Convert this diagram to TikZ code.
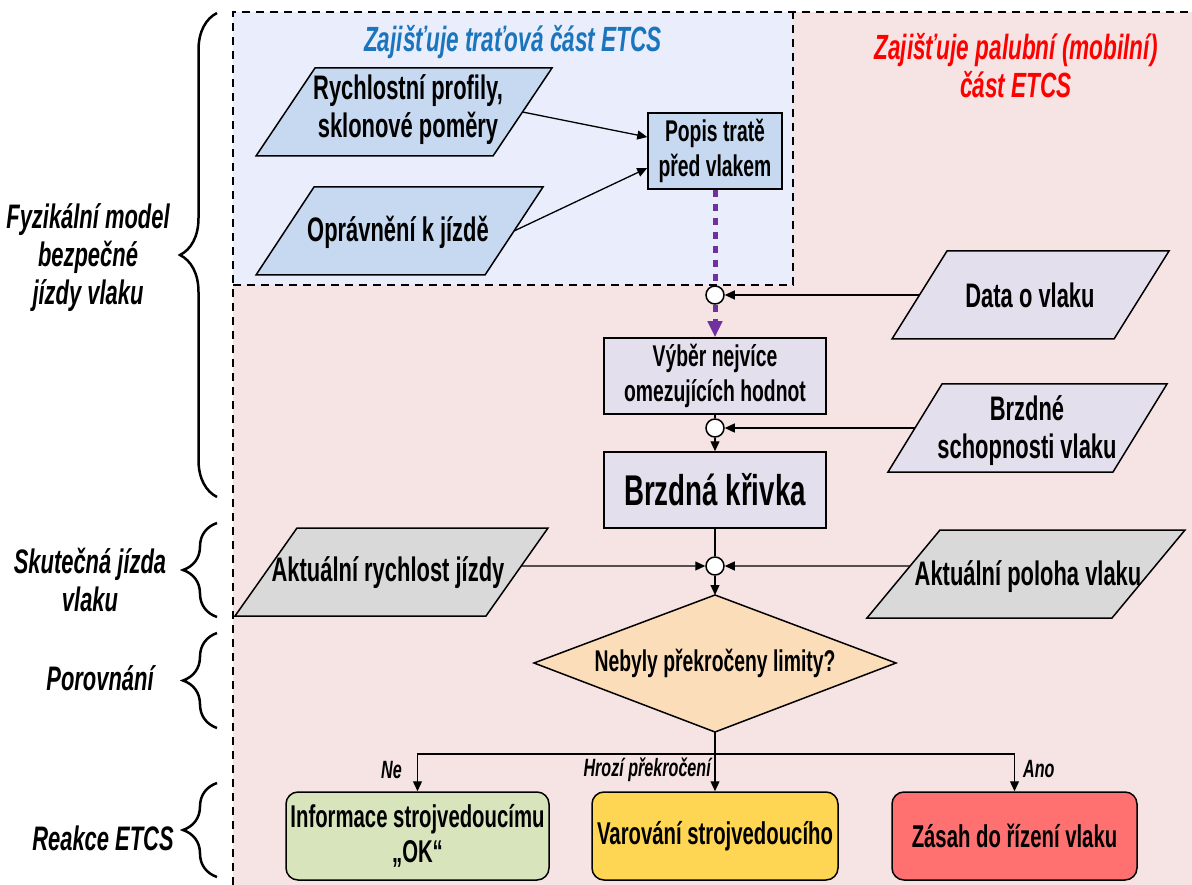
\documentclass[tikz,border=0pt]{standalone}
\usepackage{fontspec}
\setmainfont{Liberation Sans}[FakeStretch=0.645]
\usetikzlibrary{arrows.meta,decorations.pathreplacing,calc}
\definecolor{pinkbg}{RGB}{246,228,228}
\definecolor{bluebg}{RGB}{234,237,251}
\definecolor{lblue}{RGB}{198,217,240}
\definecolor{lav}{RGB}{228,223,236}
\definecolor{gry}{RGB}{217,217,217}
\definecolor{peach}{RGB}{252,221,185}
\definecolor{lgreen}{RGB}{216,228,188}
\definecolor{yel}{RGB}{255,214,84}
\definecolor{lred}{RGB}{255,113,113}
\definecolor{purp}{RGB}{112,48,160}
\definecolor{tblue}{RGB}{26,117,188}
\definecolor{tred}{RGB}{255,0,0}
\tikzset{
  shapeline/.style={draw=black, line width=1.5pt},
  para/.style={shapeline},
  box/.style={shapeline, rectangle, inner sep=0pt, align=center},
  txt/.style={inner sep=0pt, align=center, font=\bfseries\fontsize{34}{38}\selectfont},
  smalltxt/.style={font=\bfseries\fontsize{30}{35}\selectfont},
  boxtxt/.style={font=\bfseries\fontsize{31.5}{35}\selectfont},
  lbl/.style={inner sep=0pt, align=center, font=\bfseries\itshape\fontsize{34}{38}\selectfont},
  title/.style={inner sep=0pt, align=center, font=\bfseries\itshape\fontsize{35}{38}\selectfont},
  branchlbl/.style={inner sep=0pt, font=\bfseries\itshape\fontsize{25}{28}\selectfont},
  junction/.style={circle, draw=black, line width=1.5pt, fill=white, minimum size=18pt, inner sep=0pt},
  conn/.style={line width=1.3pt, draw=black},
  arr/.style={conn, -{Triangle[length=10pt,width=9pt]}},
  purpline/.style={line width=5pt, draw=purp, dash pattern=on 7pt off 7pt},
  purparr/.style={purpline, -{Triangle[length=16pt,width=14pt]}},
  bracestyle/.style={line width=2.5pt, decorate, decoration={brace, amplitude=#1}},
  frame/.style={line width=1.5pt, dash pattern=on 8pt off 6pt},
}
\newcommand\pgram[7]{%
  \coordinate (#1-tl) at (#5,#3);
  \coordinate (#1-tr) at (#6,#3);
  \coordinate (#1-br) at ({#6-#7},#4);
  \coordinate (#1-bl) at ({#5-#7},#4);
  \path[para, fill=#2] (#1-tl) -- (#1-tr) -- (#1-br) -- (#1-bl) -- cycle;}
\begin{document}
\begin{tikzpicture}[x=1pt,y=-1pt]
\useasboundingbox (0,0) rectangle (1192,885);
% regions
\fill[pinkbg] (233,12) rectangle (1192,885);
\fill[bluebg] (233,12) rectangle (793,285);
\draw[frame] (233,885) -- (233,12) -- (1192,12);
\draw[frame] (233,285) -- (793,285) -- (793,12);
% titles
\node[title, text=tblue] (ttrack) at (513,42) {Zajišťuje traťová část ETCS};
\node[title, text=tred] (tboard) at (1016,66) {Zajišťuje palubní (mobilní)\\část ETCS};
% left labels and braces
\node[lbl] (lphys) at (88,258) {Fyzikální model\\bezpečné\\jízdy vlaku};
\node[lbl] (lreal) at (90,580) {Skutečná jízda\\vlaku};
\node[lbl] (lcmp) at (100,678) {Porovnání};
\node[lbl] (lreact) at (103,838) {Reakce ETCS};
\draw[bracestyle=37pt] (217,497) -- (217,13);
\draw[bracestyle=34pt] (217,617) -- (217,523);
\draw[bracestyle=34pt] (217,728) -- (217,633);
\draw[bracestyle=34pt] (217,877) -- (217,783);
% parallelograms
\pgram{rp}{lblue}{68}{156}{315}{552}{59}
\node[txt] (trp) at (408,110) {Rychlostní profily,\\sklonové poměry};
\pgram{op}{lblue}{187}{275}{314}{543}{58}
\node[txt] (top) at (398,232) {Oprávnění k jízdě};
\pgram{data}{lav}{251}{339}{947}{1169}{55}
\node[txt] (tdata) at (1030,295) {Data o vlaku};
\pgram{brz}{lav}{384}{472}{942}{1167}{54}
\node[txt] (tbrz) at (1027,431) {Brzdné\\schopnosti vlaku};
\pgram{ar}{gry}{528}{616}{297}{548}{62}
\node[txt] (tar) at (388,573) {Aktuální rychlost jízdy};
\pgram{ap}{gry}{530}{618}{940}{1185}{73}
\node[txt] (tap) at (1028,577) {Aktuální poloha vlaku};
% boxes
\node[box, smalltxt, fill=lblue, minimum width=134pt, minimum height=76pt] (popis) at (715,151) {Popis tratě\\před vlakem};
\node[box, smalltxt, fill=lav, minimum width=222pt, minimum height=76pt] (vyber) at (715,376) {Výběr nejvíce\\omezujících hodnot};
\node[box, fill=lav, minimum width=222pt, minimum height=76pt, font=\bfseries\fontsize{43}{46}\selectfont] (krivka) at (715,490) {Brzdná křivka};
% junctions
\node[junction] (c1) at (715,295) {};
\node[junction] (c2) at (715,428) {};
\node[junction] (c3) at (715,566) {};
% decision
\coordinate (dm-t) at (715,595);
\coordinate (dm-r) at (896,663);
\coordinate (dm-b) at (715,732);
\coordinate (dm-l) at (534,663);
\path[para, fill=peach] (dm-t) -- (dm-r) -- (dm-b) -- (dm-l) -- cycle;
\node[inner sep=0pt, smalltxt] (tdm) at (715,663) {Nebyly překročeny limity?};
% reactions
\node[box, boxtxt, fill=lgreen, rounded corners=12pt, minimum width=263pt, minimum height=88pt] (ok) at (417.5,836) {Informace strojvedoucímu\\„OK“};
\node[box, boxtxt, fill=yel, rounded corners=12pt, minimum width=246pt, minimum height=88pt] (warn) at (715,836) {Varování strojvedoucího};
\node[box, boxtxt, fill=lred, rounded corners=12pt, minimum width=245pt, minimum height=88pt] (stop) at (1014.5,836) {Zásah do řízení vlaku};
% connector end points
\coordinate (rp-e) at ($(rp-tr)!0.5!(rp-br)$);
\coordinate (op-e) at ($(op-tr)!0.5!(op-br)$);
\coordinate (data-w) at ($(data-tl)!0.5!(data-bl)$);
\coordinate (brz-w) at ($(brz-tl)!0.5!(brz-bl)$);
\coordinate (ar-e) at ($(ar-tr)!0.432!(ar-br)$);
\coordinate (ap-w) at ($(ap-tl)!0.409!(ap-bl)$);
\coordinate (split) at (715,754);
% connectors
\draw[arr] (rp-e) -- ($(popis.north west)!0.32!(popis.south west)$);
\draw[arr] (op-e) -- ($(popis.north west)!0.72!(popis.south west)$);
\draw[purpline] (popis.south) -- (c1.north);
\draw[purparr] (c1.south) -- (vyber.north);
\draw[arr] (data-w) -- (c1.east);
\draw[conn] (vyber.south) -- (c2.north);
\draw[arr] (brz-w) -- (c2.east);
\draw[arr] (c2.south) -- (krivka.north);
\draw[conn] (krivka.south) -- (c3.north);
\draw[arr] (ar-e) -- (c3.west);
\draw[arr] (ap-w) -- (c3.east);
\draw[arr] (c3.south) -- (dm-t);
\draw[conn] (dm-b) -- (split);
\draw[arr] (split) -| (ok.north);
\draw[arr] (split) -- (warn.north);
\draw[arr] (split) -| (stop.north);
% branch labels
\node[branchlbl, anchor=east] (lne) at (402,770) {Ne};
\node[branchlbl, anchor=east] (lhroz) at (711,770) {Hrozí překročení};
\node[branchlbl, anchor=west] (lano) at (1023,769) {Ano};
\end{tikzpicture}
\end{document}
